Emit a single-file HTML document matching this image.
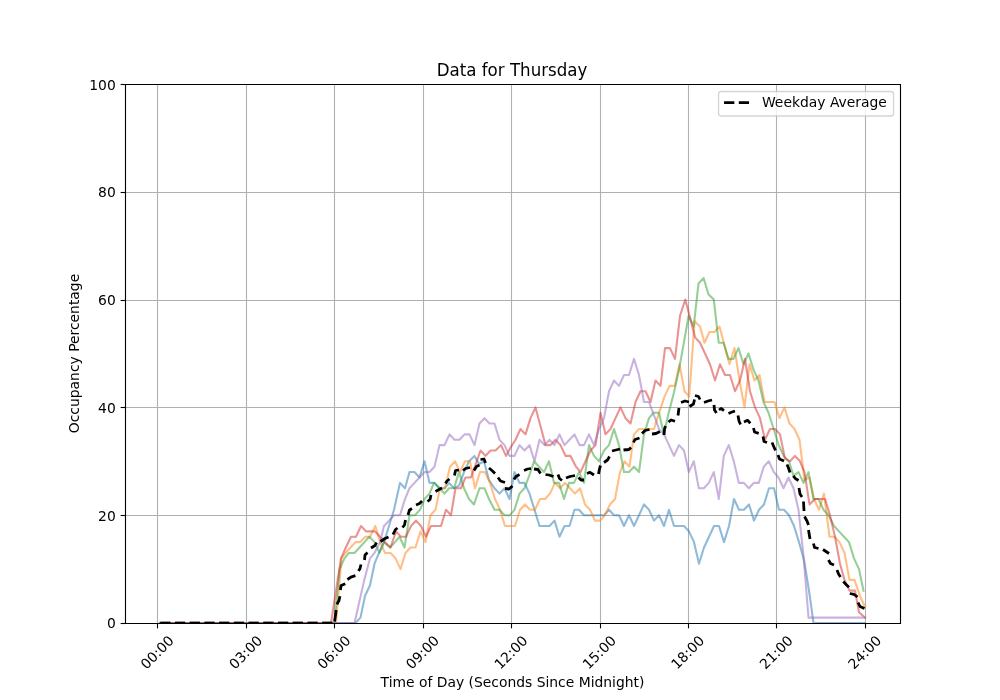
<!DOCTYPE html>
<html lang="en"><head><meta charset="utf-8"><title>Data for Thursday</title>
<style>
html,body{margin:0;padding:0;background:#fff;}
body{width:1000px;height:700px;overflow:hidden;font-family:"DejaVu Sans","Liberation Sans",sans-serif;}
svg{display:block;position:absolute;left:0;top:0;}
</style></head><body>
<svg width="1000" height="700" viewBox="0 0 720 504" version="1.1">
 
 <defs>
  <style type="text/css">*{stroke-linejoin: round; stroke-linecap: butt}</style>
 </defs>
 <g id="figure_1">
  <g id="patch_1">
   <path d="M 0 504 
L 720 504 
L 720 0 
L 0 0 
z
" style="fill: #ffffff"/>
  </g>
  <g id="axes_1">
   <g id="patch_2">
    <path d="M 90 448.56 
L 648 448.56 
L 648 60.48 
L 90 60.48 
z
" style="fill: #ffffff"/>
   </g>
   <g id="line2d_1">
    <path d="M 113.4 60.84 
L 113.4 448.92 
" style="fill: none; stroke: #b0b0b0; stroke-width: 0.8"/>
   </g>
   <g id="line2d_2">
    <path d="M 177.48 60.84 
L 177.48 448.92 
" style="fill: none; stroke: #b0b0b0; stroke-width: 0.8"/>
   </g>
   <g id="line2d_3">
    <path d="M 240.84 60.84 
L 240.84 448.92 
" style="fill: none; stroke: #b0b0b0; stroke-width: 0.8"/>
   </g>
   <g id="line2d_4">
    <path d="M 304.92 60.84 
L 304.92 448.92 
" style="fill: none; stroke: #b0b0b0; stroke-width: 0.8"/>
   </g>
   <g id="line2d_5">
    <path d="M 368.28 60.84 
L 368.28 448.92 
" style="fill: none; stroke: #b0b0b0; stroke-width: 0.8"/>
   </g>
   <g id="line2d_6">
    <path d="M 432.36 60.84 
L 432.36 448.92 
" style="fill: none; stroke: #b0b0b0; stroke-width: 0.8"/>
   </g>
   <g id="line2d_7">
    <path d="M 495.72 60.84 
L 495.72 448.92 
" style="fill: none; stroke: #b0b0b0; stroke-width: 0.8"/>
   </g>
   <g id="line2d_8">
    <path d="M 559.08 60.84 
L 559.08 448.92 
" style="fill: none; stroke: #b0b0b0; stroke-width: 0.8"/>
   </g>
   <g id="line2d_9">
    <path d="M 623.16 60.84 
L 623.16 448.92 
" style="fill: none; stroke: #b0b0b0; stroke-width: 0.8"/>
   </g>
   <g id="line2d_10">
    <path d="M 90.36 448.92 
L 648.36 448.92 
" style="fill: none; stroke: #b0b0b0; stroke-width: 0.8"/>
   </g>
   <g id="line2d_11">
    <path d="M 90.36 371.16 
L 648.36 371.16 
" style="fill: none; stroke: #b0b0b0; stroke-width: 0.8"/>
   </g>
   <g id="line2d_12">
    <path d="M 90.36 293.4 
L 648.36 293.4 
" style="fill: none; stroke: #b0b0b0; stroke-width: 0.8"/>
   </g>
   <g id="line2d_13">
    <path d="M 90.36 216.36 
L 648.36 216.36 
" style="fill: none; stroke: #b0b0b0; stroke-width: 0.8"/>
   </g>
   <g id="line2d_14">
    <path d="M 90.36 138.6 
L 648.36 138.6 
" style="fill: none; stroke: #b0b0b0; stroke-width: 0.8"/>
   </g>
   <g id="line2d_15">
    <path d="M 90.36 60.84 
L 648.36 60.84 
" style="fill: none; stroke: #b0b0b0; stroke-width: 0.8"/>
   </g>
   <g id="matplotlib.axis_1">
    <g id="xtick_1">
     <g id="line2d_16"/>
     <g id="text_1">
      <text style="font-size: 10px; font-family: 'DejaVu Sans', 'Liberation Sans', sans-serif" transform="translate(105.4502 482.3188) rotate(-45)">00:00</text>
     </g>
    </g>
    <g id="xtick_2">
     <g id="line2d_17"/>
     <g id="text_2">
      <text style="font-size: 10px; font-family: 'DejaVu Sans', 'Liberation Sans', sans-serif" transform="translate(169.1198 482.3188) rotate(-45)">03:00</text>
     </g>
    </g>
    <g id="xtick_3">
     <g id="line2d_18"/>
     <g id="text_3">
      <text style="font-size: 10px; font-family: 'DejaVu Sans', 'Liberation Sans', sans-serif" transform="translate(232.7894 482.3188) rotate(-45)">06:00</text>
     </g>
    </g>
    <g id="xtick_4">
     <g id="line2d_19"/>
     <g id="text_4">
      <text style="font-size: 10px; font-family: 'DejaVu Sans', 'Liberation Sans', sans-serif" transform="translate(296.4590 482.3188) rotate(-45)">09:00</text>
     </g>
    </g>
    <g id="xtick_5">
     <g id="line2d_20"/>
     <g id="text_5">
      <text style="font-size: 10px; font-family: 'DejaVu Sans', 'Liberation Sans', sans-serif" transform="translate(360.1286 482.3188) rotate(-45)">12:00</text>
     </g>
    </g>
    <g id="xtick_6">
     <g id="line2d_21"/>
     <g id="text_6">
      <text style="font-size: 10px; font-family: 'DejaVu Sans', 'Liberation Sans', sans-serif" transform="translate(423.7982 482.3188) rotate(-45)">15:00</text>
     </g>
    </g>
    <g id="xtick_7">
     <g id="line2d_22"/>
     <g id="text_7">
      <text style="font-size: 10px; font-family: 'DejaVu Sans', 'Liberation Sans', sans-serif" transform="translate(487.4678 482.3188) rotate(-45)">18:00</text>
     </g>
    </g>
    <g id="xtick_8">
     <g id="line2d_23"/>
     <g id="text_8">
      <text style="font-size: 10px; font-family: 'DejaVu Sans', 'Liberation Sans', sans-serif" transform="translate(551.1374 482.3188) rotate(-45)">21:00</text>
     </g>
    </g>
    <g id="xtick_9">
     <g id="line2d_24"/>
     <g id="text_9">
      <text style="font-size: 10px; font-family: 'DejaVu Sans', 'Liberation Sans', sans-serif" transform="translate(614.8070 482.3188) rotate(-45)">24:00</text>
     </g>
    </g>
    <g id="text_10">
     <text style="font-size: 10px; font-family: 'DejaVu Sans', 'Liberation Sans', sans-serif; text-anchor: middle" x="369" y="494.379839" transform="rotate(-0 369 494.379839)">Time of Day (Seconds Since Midnight)</text>
    </g>
   </g>
   <g id="matplotlib.axis_2">
    <g id="ytick_1">
     <g id="line2d_25"/>
     <g id="text_11">
      <text style="font-size: 10px; font-family: 'DejaVu Sans', 'Liberation Sans', sans-serif; text-anchor: end" x="83.3600" y="452.3592" transform="rotate(-0 83.3600 452.3592)">0</text>
     </g>
    </g>
    <g id="ytick_2">
     <g id="line2d_26"/>
     <g id="text_12">
      <text style="font-size: 10px; font-family: 'DejaVu Sans', 'Liberation Sans', sans-serif; text-anchor: end" x="83.3600" y="375.3192" transform="rotate(-0 83.3600 375.3192)">20</text>
     </g>
    </g>
    <g id="ytick_3">
     <g id="line2d_27"/>
     <g id="text_13">
      <text style="font-size: 10px; font-family: 'DejaVu Sans', 'Liberation Sans', sans-serif; text-anchor: end" x="83.3600" y="297.1272" transform="rotate(-0 83.3600 297.1272)">40</text>
     </g>
    </g>
    <g id="ytick_4">
     <g id="line2d_28"/>
     <g id="text_14">
      <text style="font-size: 10px; font-family: 'DejaVu Sans', 'Liberation Sans', sans-serif; text-anchor: end" x="83.3600" y="219.5112" transform="rotate(-0 83.3600 219.5112)">60</text>
     </g>
    </g>
    <g id="ytick_5">
     <g id="line2d_29"/>
     <g id="text_15">
      <text style="font-size: 10px; font-family: 'DejaVu Sans', 'Liberation Sans', sans-serif; text-anchor: end" x="83.3600" y="141.8952" transform="rotate(-0 83.3600 141.8952)">80</text>
     </g>
    </g>
    <g id="ytick_6">
     <g id="line2d_30"/>
     <g id="text_16">
      <text style="font-size: 10px; font-family: 'DejaVu Sans', 'Liberation Sans', sans-serif; text-anchor: end" x="83.3600" y="64.9272" transform="rotate(-0 83.3600 64.9272)">100</text>
     </g>
    </g>
    <g id="text_17">
     <text style="font-size: 10px; font-family: 'DejaVu Sans', 'Liberation Sans', sans-serif; text-anchor: middle" x="57.1128" y="254.52" transform="rotate(-90 57.1128 254.52)">Occupancy Percentage</text>
    </g>
   </g>
   <g id="line2d_31">
    <path d="M 115.344 448.56 
L 255.96 448.56 
L 259.56 444.6792 
L 262.8 429.156 
L 266.4 421.3944 
L 269.64 405.8712 
L 272.88 398.1096 
L 276.48 390.348 
L 280.08 378.7056 
L 283.68 367.0632 
L 288 347.6592 
L 291.6 351.54 
L 294.84 339.8976 
L 298.44 339.8976 
L 302.04 343.7784 
L 305.64 332.136 
L 309.24 347.6592 
L 312.84 347.6592 
L 316.44 351.54 
L 320.04 351.54 
L 323.28 347.6592 
L 326.88 351.54 
L 330.48 349.5996 
L 334.08 339.8976 
L 337.68 332.136 
L 341.64 328.2552 
L 344.88 334.0764 
L 348.48 332.136 
L 352.08 345.7188 
L 356.04 351.54 
L 359.64 355.4208 
L 363.24 351.54 
L 366.84 359.3016 
L 370.44 339.8976 
L 374.04 347.6592 
L 377.64 347.6592 
L 381.24 355.4208 
L 384.84 367.0632 
L 388.44 378.7056 
L 392.04 378.7056 
L 395.64 378.7056 
L 399.24 374.8248 
L 402.84 386.4672 
L 406.44 378.7056 
L 410.04 378.7056 
L 413.64 367.0632 
L 416.88 367.0632 
L 420.48 370.944 
L 424.08 370.944 
L 427.68 370.944 
L 431.28 370.944 
L 434.88 370.944 
L 438.48 367.0632 
L 442.08 370.944 
L 445.68 370.944 
L 449.28 378.7056 
L 452.88 370.944 
L 456.48 378.7056 
L 460.08 370.944 
L 463.68 363.1824 
L 467.28 367.0632 
L 470.88 374.8248 
L 474.48 370.944 
L 478.08 378.7056 
L 481.68 367.0632 
L 485.28 378.7056 
L 488.88 378.7056 
L 492.48 378.7056 
L 496.08 382.5864 
L 499.68 390.348 
L 503.28 405.8712 
L 506.88 394.2288 
L 510.48 386.4672 
L 514.08 378.7056 
L 517.68 378.7056 
L 521.28 390.348 
L 524.88 378.7056 
L 528.48 359.3016 
L 532.08 367.0632 
L 535.68 367.0632 
L 539.28 363.1824 
L 542.88 374.8248 
L 546.48 367.0632 
L 550.08 363.1824 
L 553.68 351.54 
L 557.28 351.54 
L 560.88 367.0632 
L 564.48 367.0632 
L 568.08 370.944 
L 571.68 378.7056 
L 575.28 390.348 
L 578.88 403.15464 
L 582.48 425.2752 
L 585.72 448.56 
L 622.8 448.56 
" clip-path="url(#p08adf94bba)" style="fill: none; stroke: #1f77b4; stroke-opacity: 0.5; stroke-width: 1.5; stroke-linecap: square"/>
   </g>
   <g id="line2d_32">
    <path d="M 115.344 448.56 
L 241.92 448.56 
L 245.88 401.9904 
L 248.76 398.1096 
L 252.36 394.2288 
L 255.96 390.348 
L 259.2 390.348 
L 263.16 386.4672 
L 266.4 386.4672 
L 270.216 378.7056 
L 273.744 390.348 
L 277.2 398.1096 
L 281.16 398.1096 
L 284.76 401.9904 
L 288.36 409.752 
L 291.96 398.1096 
L 295.56 394.2288 
L 299.16 394.2288 
L 302.76 382.5864 
L 306.36 390.348 
L 309.96 370.944 
L 313.56 367.0632 
L 316.8 351.54 
L 320.4 351.54 
L 324 336.0168 
L 327.6 332.136 
L 331.2 339.8976 
L 334.8 332.136 
L 338.4 332.136 
L 342 351.54 
L 345.6 339.8976 
L 349.2 339.8976 
L 352.8 347.6592 
L 356.4 359.3016 
L 360 367.0632 
L 363.6 378.7056 
L 367.2 378.7056 
L 370.8 378.7056 
L 374.4 367.0632 
L 378 363.1824 
L 381.6 367.0632 
L 385.2 367.0632 
L 388.8 359.3016 
L 392.4 359.3016 
L 396 355.4208 
L 399.6 347.6592 
L 403.2 351.54 
L 406.8 347.6592 
L 410.4 351.54 
L 414 355.4208 
L 417.6 351.54 
L 421.2 363.1824 
L 424.8 367.0632 
L 428.4 374.8248 
L 432 374.8248 
L 435.6 370.944 
L 439.2 363.1824 
L 442.8 359.3016 
L 446.4 339.8976 
L 449.64 332.136 
L 453.24 336.0168 
L 456.48 312.732 
L 460.08 308.8512 
L 463.68 308.8512 
L 467.28 308.8512 
L 470.88 308.8512 
L 474.48 297.2088 
L 478.44 285.5664 
L 482.04 277.8048 
L 485.856 277.8048 
L 489.24 262.2816 
L 492.84 281.6856 
L 496.224 285.5664 
L 500.112 231.2352 
L 504 235.116 
L 507.24 246.7584 
L 510.84 238.9968 
L 514.44 238.9968 
L 518.04 235.116 
L 521.64 248.6988 
L 525.24 262.2816 
L 528.84 250.6392 
L 532.44 273.924 
L 536.04 293.328 
L 539.64 262.2816 
L 543.24 273.924 
L 546.84 270.0432 
L 550.44 289.4472 
L 554.04 289.4472 
L 557.64 289.4472 
L 561.24 301.0896 
L 564.84 293.328 
L 568.44 304.9704 
L 572.04 308.8512 
L 575.64 316.6128 
L 579.24 345.7188 
L 582.84 343.7784 
L 586.08 359.3016 
L 589.68 367.0632 
L 593.28 355.4208 
L 597.24 386.4672 
L 600.84 386.4672 
L 604.44 390.348 
L 608.04 398.1096 
L 611.64 417.5136 
L 615.24 417.5136 
L 619.2 429.156 
L 622.8 436.9176 
" clip-path="url(#p08adf94bba)" style="fill: none; stroke: #ff7f0e; stroke-opacity: 0.5; stroke-width: 1.5; stroke-linecap: square"/>
   </g>
   <g id="line2d_33">
    <path d="M 115.344 448.56 
L 240.84 448.56 
L 244.44 409.752 
L 248.04 401.9904 
L 251.28 398.1096 
L 255.24 398.1096 
L 258.84 394.2288 
L 262.44 390.348 
L 265.896 386.4672 
L 269.64 390.348 
L 273.24 398.1096 
L 276.48 390.348 
L 280.8 394.2288 
L 284.4 390.348 
L 287.64 386.4672 
L 291.24 394.2288 
L 294.84 370.944 
L 298.8 370.944 
L 302.4 367.0632 
L 305.64 359.3016 
L 309.24 355.4208 
L 312.48 347.6592 
L 316.44 351.54 
L 320.04 355.4208 
L 323.28 351.54 
L 326.88 351.54 
L 330.48 339.8976 
L 334.08 351.54 
L 337.68 359.3016 
L 341.28 363.1824 
L 345.24 351.54 
L 348.84 351.54 
L 352.08 359.3016 
L 356.04 367.0632 
L 359.64 367.0632 
L 363.24 370.944 
L 367.2 370.944 
L 370.44 367.0632 
L 374.04 355.4208 
L 377.64 351.54 
L 381.24 341.838 
L 384.48 332.136 
L 388.08 336.0168 
L 391.68 339.8976 
L 395.28 332.136 
L 398.88 347.6592 
L 402.48 347.6592 
L 406.08 359.3016 
L 409.68 347.6592 
L 413.28 347.6592 
L 416.88 339.8976 
L 420.48 347.6592 
L 424.08 320.4936 
L 427.68 328.2552 
L 431.28 332.136 
L 434.88 324.3744 
L 438.48 320.4936 
L 442.08 308.8512 
L 445.68 320.4936 
L 449.28 339.8976 
L 452.88 339.8976 
L 456.48 336.0168 
L 460.08 339.8976 
L 463.68 312.732 
L 467.28 301.0896 
L 470.52 297.2088 
L 474.48 297.2088 
L 477.936 312.732 
L 481.464 297.2088 
L 484.992 283.626 
L 488.52 268.1028 
L 492.048 248.6988 
L 495.792 227.3544 
L 499.464 235.116 
L 502.92 204.0696 
L 506.592 200.1888 
L 510.048 211.8312 
L 513.936 215.712 
L 517.464 246.7584 
L 520.92 246.7584 
L 524.52 258.4008 
L 528.12 258.4008 
L 531.72 250.6392 
L 535.32 262.2816 
L 538.92 254.52 
L 542.52 266.1624 
L 546.12 273.924 
L 549.72 289.4472 
L 553.32 297.2088 
L 557.064 308.8512 
L 560.664 320.4936 
L 564.264 328.2552 
L 568.08 332.136 
L 571.32 342.61416 
L 574.92 339.8976 
L 578.52 347.6592 
L 582.12 339.8976 
L 585.72 359.3016 
L 589.32 359.3016 
L 592.92 367.0632 
L 596.52 370.944 
L 600.48 378.7056 
L 604.08 382.5864 
L 607.68 386.4672 
L 611.28 390.348 
L 614.88 401.9904 
L 618.48 409.752 
L 621.72 425.2752 
" clip-path="url(#p08adf94bba)" style="fill: none; stroke: #2ca02c; stroke-opacity: 0.5; stroke-width: 1.5; stroke-linecap: square"/>
   </g>
   <g id="line2d_34">
    <path d="M 115.344 448.56 
L 238.32 448.56 
L 245.52 401.9904 
L 248.976 394.2288 
L 252.72 386.4672 
L 256.32 386.4672 
L 259.92 378.7056 
L 263.52 382.5864 
L 266.76 382.5864 
L 270 382.5864 
L 273.6 386.4672 
L 277.2 390.348 
L 281.16 394.2288 
L 285.12 382.5864 
L 288.72 386.4672 
L 292.32 386.4672 
L 295.92 378.7056 
L 299.52 374.8248 
L 303.12 378.7056 
L 306.72 386.4672 
L 310.32 378.7056 
L 313.92 378.7056 
L 317.52 378.7056 
L 321.12 367.0632 
L 324.72 370.944 
L 327.96 351.54 
L 331.92 351.54 
L 335.16 343.7784 
L 339.12 343.7784 
L 342.72 333.68832 
L 345.96 324.3744 
L 349.56 328.2552 
L 353.16 324.3744 
L 356.76 324.3744 
L 360.72 320.4936 
L 364.32 328.2552 
L 367.56 322.434 
L 371.16 316.6128 
L 374.76 308.8512 
L 378.36 312.732 
L 381.96 301.0896 
L 385.56 293.328 
L 389.16 306.9108 
L 392.76 320.4936 
L 396.36 320.4936 
L 399.96 316.6128 
L 403.56 320.4936 
L 407.16 328.2552 
L 410.76 328.2552 
L 414.72 336.0168 
L 417.96 339.8976 
L 421.56 332.136 
L 425.16 324.3744 
L 428.76 320.4936 
L 432.36 297.2088 
L 435.96 312.732 
L 439.56 308.8512 
L 443.16 301.0896 
L 446.76 293.328 
L 450.36 301.0896 
L 453.96 304.9704 
L 457.56 289.4472 
L 461.16 281.6856 
L 464.76 281.6856 
L 468.36 289.4472 
L 471.96 273.924 
L 475.56 277.8048 
L 478.8 250.6392 
L 482.4 250.6392 
L 486 258.4008 
L 489.6 227.3544 
L 493.416 215.712 
L 496.944 229.2948 
L 500.472 242.8776 
L 504 246.7584 
L 507.6 254.52 
L 511.2 262.2816 
L 514.8 273.924 
L 518.4 262.2816 
L 522 270.0432 
L 525.6 270.0432 
L 529.2 281.6856 
L 532.8 273.924 
L 536.4 258.4008 
L 540 281.6856 
L 543.6 293.328 
L 547.2 301.0896 
L 550.8 316.6128 
L 554.4 308.8512 
L 558 308.8512 
L 561.6 312.732 
L 565.2 330.1956 
L 568.8 332.136 
L 572.4 328.2552 
L 576 332.136 
L 579.24 339.8976 
L 582.84 363.1824 
L 586.8 359.3016 
L 590.4 359.3016 
L 594 359.3016 
L 597.6 370.944 
L 601.2 386.4672 
L 604.8 405.8712 
L 608.04 417.5136 
L 611.64 425.2752 
L 615.6 425.2752 
L 618.48 440.7984 
L 622.8 444.6792 
" clip-path="url(#p08adf94bba)" style="fill: none; stroke: #d62728; stroke-opacity: 0.5; stroke-width: 1.5; stroke-linecap: square"/>
   </g>
   <g id="line2d_35">
    <path d="M 115.344 448.56 
L 255.24 448.56 
L 258.768 433.0368 
L 262.296 417.5136 
L 266.4 401.9904 
L 269.64 398.1096 
L 273.6 390.348 
L 276.48 378.7056 
L 280.08 374.8248 
L 283.68 370.944 
L 288 370.944 
L 291.6 359.3016 
L 294.84 351.54 
L 298.44 347.6592 
L 302.04 343.7784 
L 305.64 339.8976 
L 309.24 339.8976 
L 312.84 336.0168 
L 316.44 320.4936 
L 320.04 320.4936 
L 323.64 312.732 
L 327.24 316.6128 
L 330.84 316.6128 
L 334.44 312.732 
L 338.04 312.732 
L 341.64 320.4936 
L 345.24 304.9704 
L 348.84 301.0896 
L 352.44 304.9704 
L 356.04 304.9704 
L 359.64 316.6128 
L 363.24 320.4936 
L 366.84 328.2552 
L 370.44 328.2552 
L 374.04 320.4936 
L 377.64 324.3744 
L 381.24 320.4936 
L 384.84 332.136 
L 388.44 316.6128 
L 392.04 320.4936 
L 395.64 316.6128 
L 399.24 320.4936 
L 402.84 312.732 
L 406.44 320.4936 
L 410.04 316.6128 
L 413.64 312.732 
L 417.24 320.4936 
L 420.48 320.4936 
L 424.08 312.732 
L 427.68 320.4936 
L 431.28 308.8512 
L 434.88 301.0896 
L 438.48 281.6856 
L 442.08 273.924 
L 445.68 277.8048 
L 449.28 270.0432 
L 452.88 270.0432 
L 456.48 258.4008 
L 460.08 270.0432 
L 463.68 289.4472 
L 467.28 289.4472 
L 470.88 299.1492 
L 474.48 308.8512 
L 478.08 312.732 
L 481.68 320.4936 
L 485.28 328.2552 
L 488.88 320.4936 
L 492.48 324.3744 
L 495.936 339.8976 
L 499.536 332.136 
L 503.136 351.54 
L 506.736 351.54 
L 510.336 347.6592 
L 513.936 339.8976 
L 517.536 359.3016 
L 521.136 328.2552 
L 524.736 320.4936 
L 528.336 332.136 
L 531.936 347.6592 
L 535.536 347.6592 
L 539.136 351.54 
L 542.736 347.6592 
L 546.336 347.6592 
L 549.936 336.0168 
L 553.536 332.136 
L 557.136 339.8976 
L 560.52 343.7784 
L 564.12 351.54 
L 567.72 343.7784 
L 571.32 351.54 
L 574.92 367.0632 
L 578.52 400.05 
L 582.12 444.6792 
L 622.8 444.6792 
" clip-path="url(#p08adf94bba)" style="fill: none; stroke: #9467bd; stroke-opacity: 0.5; stroke-width: 1.5; stroke-linecap: square"/>
   </g>
   <g id="line2d_36">
    <path d="M 115.344 448.56 
L 122.744 448.56 
" clip-path="url(#p08adf94bba)" style="fill: none; stroke: #000000; stroke-width: 2"/>
   </g>
   <g id="line2d_37">
    <path d="M 125.944 448.56 
L 133.344 448.56 
" clip-path="url(#p08adf94bba)" style="fill: none; stroke: #000000; stroke-width: 2"/>
   </g>
   <g id="line2d_38">
    <path d="M 136.544 448.56 
L 143.944 448.56 
" clip-path="url(#p08adf94bba)" style="fill: none; stroke: #000000; stroke-width: 2"/>
   </g>
   <g id="line2d_39">
    <path d="M 147.144 448.56 
L 154.544 448.56 
" clip-path="url(#p08adf94bba)" style="fill: none; stroke: #000000; stroke-width: 2"/>
   </g>
   <g id="line2d_40">
    <path d="M 157.744 448.56 
L 165.144 448.56 
" clip-path="url(#p08adf94bba)" style="fill: none; stroke: #000000; stroke-width: 2"/>
   </g>
   <g id="line2d_41">
    <path d="M 168.344 448.56 
L 175.744 448.56 
" clip-path="url(#p08adf94bba)" style="fill: none; stroke: #000000; stroke-width: 2"/>
   </g>
   <g id="line2d_42">
    <path d="M 178.944 448.56 
L 186.344 448.56 
" clip-path="url(#p08adf94bba)" style="fill: none; stroke: #000000; stroke-width: 2"/>
   </g>
   <g id="line2d_43">
    <path d="M 189.544 448.56 
L 196.944 448.56 
" clip-path="url(#p08adf94bba)" style="fill: none; stroke: #000000; stroke-width: 2"/>
   </g>
   <g id="line2d_44">
    <path d="M 200.144 448.56 
L 207.544 448.56 
" clip-path="url(#p08adf94bba)" style="fill: none; stroke: #000000; stroke-width: 2"/>
   </g>
   <g id="line2d_45">
    <path d="M 210.744 448.56 
L 218.144 448.56 
" clip-path="url(#p08adf94bba)" style="fill: none; stroke: #000000; stroke-width: 2"/>
   </g>
   <g id="line2d_46">
    <path d="M 221.344 448.56 
L 228.744 448.56 
" clip-path="url(#p08adf94bba)" style="fill: none; stroke: #000000; stroke-width: 2"/>
   </g>
   <g id="line2d_47">
    <path d="M 231.944 448.56 
L 239.344 448.56 
" clip-path="url(#p08adf94bba)" style="fill: none; stroke: #000000; stroke-width: 2"/>
   </g>
   <g id="line2d_48">
    <path d="M 240.912 447.48 
L 242.064 439.2 
" clip-path="url(#p08adf94bba)" style="fill: none; stroke: #000000; stroke-width: 2"/>
   </g>
   <g id="line2d_49">
    <path d="M 242.568 435.168 
L 244.08 432.36 
L 244.8 429.336 
" clip-path="url(#p08adf94bba)" style="fill: none; stroke: #000000; stroke-width: 2"/>
   </g>
   <g id="line2d_50">
    <path d="M 245.088 424.8 
L 245.592 421.56 
L 248.616 420.264 
" clip-path="url(#p08adf94bba)" style="fill: none; stroke: #000000; stroke-width: 2"/>
   </g>
   <g id="line2d_51">
    <path d="M 250.128 417.24 
L 252.648 415.512 
L 255.888 414.504 
" clip-path="url(#p08adf94bba)" style="fill: none; stroke: #000000; stroke-width: 2"/>
   </g>
   <g id="line2d_52">
    <path d="M 258.12 411.12 
L 259.2 409.32 
L 259.92 406.44 
" clip-path="url(#p08adf94bba)" style="fill: none; stroke: #000000; stroke-width: 2"/>
   </g>
   <g id="line2d_53">
    <path d="M 262.44 403.2 
L 262.8 399.6 
L 264.6 397.8 
" clip-path="url(#p08adf94bba)" style="fill: none; stroke: #000000; stroke-width: 2"/>
   </g>
   <g id="line2d_54">
    <path d="M 267.12 394.56 
L 270 392.76 
L 271.08 390.6 
" clip-path="url(#p08adf94bba)" style="fill: none; stroke: #000000; stroke-width: 2"/>
   </g>
   <g id="line2d_55">
    <path d="M 273.96 389.88 
L 277.2 387.72 
L 279.72 386.64 
" clip-path="url(#p08adf94bba)" style="fill: none; stroke: #000000; stroke-width: 2"/>
   </g>
   <g id="line2d_56">
    <path d="M 282.96 384.84 
L 284.76 381.24 
L 286.2 380.16 
" clip-path="url(#p08adf94bba)" style="fill: none; stroke: #000000; stroke-width: 2"/>
   </g>
   <g id="line2d_57">
    <path d="M 289.8 379.8 
L 291.24 378 
L 291.96 374.4 
" clip-path="url(#p08adf94bba)" style="fill: none; stroke: #000000; stroke-width: 2"/>
   </g>
   <g id="line2d_58">
    <path d="M 293.76 370.8 
L 294.84 367.2 
L 296.64 366.12 
" clip-path="url(#p08adf94bba)" style="fill: none; stroke: #000000; stroke-width: 2"/>
   </g>
   <g id="line2d_59">
    <path d="M 299.52 363.6 
L 302.04 362.52 
L 303.84 360.72 
" clip-path="url(#p08adf94bba)" style="fill: none; stroke: #000000; stroke-width: 2"/>
   </g>
   <g id="line2d_60">
    <path d="M 307.8 361.08 
L 309.6 359.64 
L 310.32 356.4 
" clip-path="url(#p08adf94bba)" style="fill: none; stroke: #000000; stroke-width: 2"/>
   </g>
   <g id="line2d_61">
    <path d="M 313.56 353.88 
L 316.08 352.44 
L 318.24 351.36 
" clip-path="url(#p08adf94bba)" style="fill: none; stroke: #000000; stroke-width: 2"/>
   </g>
   <g id="line2d_62">
    <path d="M 320.76 348.12 
L 321.84 346.32 
L 323.64 344.88 
" clip-path="url(#p08adf94bba)" style="fill: none; stroke: #000000; stroke-width: 2"/>
   </g>
   <g id="line2d_63">
    <path d="M 327.24 342.36 
L 327.96 338.76 
L 330.48 338.4 
" clip-path="url(#p08adf94bba)" style="fill: none; stroke: #000000; stroke-width: 2"/>
   </g>
   <g id="line2d_64">
    <path d="M 333.36 338.76 
L 335.16 337.32 
L 338.4 336.6 
" clip-path="url(#p08adf94bba)" style="fill: none; stroke: #000000; stroke-width: 2"/>
   </g>
   <g id="line2d_65">
    <path d="M 341.28 338.76 
L 343.08 335.88 
L 345.24 334.8 
" clip-path="url(#p08adf94bba)" style="fill: none; stroke: #000000; stroke-width: 2"/>
   </g>
   <g id="line2d_66">
    <path d="M 345.96 330.84 
L 348.48 330.48 
L 349.56 333.36 
" clip-path="url(#p08adf94bba)" style="fill: none; stroke: #000000; stroke-width: 2"/>
   </g>
   <g id="line2d_67">
    <path d="M 352.08 336.96 
L 354.6 339.12 
L 356.4 340.92 
" clip-path="url(#p08adf94bba)" style="fill: none; stroke: #000000; stroke-width: 2"/>
   </g>
   <g id="line2d_68">
    <path d="M 358.56 343.8 
L 360.36 346.32 
L 363.6 347.4 
" clip-path="url(#p08adf94bba)" style="fill: none; stroke: #000000; stroke-width: 2"/>
   </g>
   <g id="line2d_69">
    <path d="M 363.6 351.72 
L 366.48 352.08 
L 369 349.92 
" clip-path="url(#p08adf94bba)" style="fill: none; stroke: #000000; stroke-width: 2"/>
   </g>
   <g id="line2d_70">
    <path d="M 370.08 345.24 
L 371.52 343.08 
L 374.04 341.64 
" clip-path="url(#p08adf94bba)" style="fill: none; stroke: #000000; stroke-width: 2"/>
   </g>
   <g id="line2d_71">
    <path d="M 377.28 338.76 
L 379.8 337.68 
L 382.32 337.32 
" clip-path="url(#p08adf94bba)" style="fill: none; stroke: #000000; stroke-width: 2"/>
   </g>
   <g id="line2d_72">
    <path d="M 384.48 337.68 
L 387.36 338.04 
L 389.16 340.92 
" clip-path="url(#p08adf94bba)" style="fill: none; stroke: #000000; stroke-width: 2"/>
   </g>
   <g id="line2d_73">
    <path d="M 392.76 341.64 
L 395.28 342 
L 398.52 343.08 
" clip-path="url(#p08adf94bba)" style="fill: none; stroke: #000000; stroke-width: 2"/>
   </g>
   <g id="line2d_74">
    <path d="M 401.76 341.64 
L 402.84 344.52 
L 404.64 345.96 
" clip-path="url(#p08adf94bba)" style="fill: none; stroke: #000000; stroke-width: 2"/>
   </g>
   <g id="line2d_75">
    <path d="M 407.52 344.16 
L 410.4 343.08 
L 414 342.36 
" clip-path="url(#p08adf94bba)" style="fill: none; stroke: #000000; stroke-width: 2"/>
   </g>
   <g id="line2d_76">
    <path d="M 416.52 343.8 
L 418.32 345.6 
L 420.48 345.6 
" clip-path="url(#p08adf94bba)" style="fill: none; stroke: #000000; stroke-width: 2"/>
   </g>
   <g id="line2d_77">
    <path d="M 422.64 340.92 
L 424.8 340.056 
L 427.68 342 
" clip-path="url(#p08adf94bba)" style="fill: none; stroke: #000000; stroke-width: 2"/>
   </g>
   <g id="line2d_78">
    <path d="M 430.92 341.28 
L 431.64 337.68 
L 432.36 335.16 
" clip-path="url(#p08adf94bba)" style="fill: none; stroke: #000000; stroke-width: 2"/>
   </g>
   <g id="line2d_79">
    <path d="M 434.88 333 
L 437.4 331.2 
L 438.84 328.68 
" clip-path="url(#p08adf94bba)" style="fill: none; stroke: #000000; stroke-width: 2"/>
   </g>
   <g id="line2d_80">
    <path d="M 440.64 324.72 
L 443.52 324 
L 446.4 323.28 
" clip-path="url(#p08adf94bba)" style="fill: none; stroke: #000000; stroke-width: 2"/>
   </g>
   <g id="line2d_81">
    <path d="M 448.92 324 
L 452.88 323.64 
L 454.32 322.2 
" clip-path="url(#p08adf94bba)" style="fill: none; stroke: #000000; stroke-width: 2"/>
   </g>
   <g id="line2d_82">
    <path d="M 456.12 318.6 
L 457.2 316.44 
L 460.44 315.36 
" clip-path="url(#p08adf94bba)" style="fill: none; stroke: #000000; stroke-width: 2"/>
   </g>
   <g id="line2d_83">
    <path d="M 462.24 312.12 
L 464.4 309.96 
L 467.64 309.24 
" clip-path="url(#p08adf94bba)" style="fill: none; stroke: #000000; stroke-width: 2"/>
   </g>
   <g id="line2d_84">
    <path d="M 469.44 312.48 
L 472.32 312.12 
L 475.2 310.68 
" clip-path="url(#p08adf94bba)" style="fill: none; stroke: #000000; stroke-width: 2"/>
   </g>
   <g id="line2d_85">
    <path d="M 478.08 313.2 
L 478.44 308.88 
L 479.16 306.72 
" clip-path="url(#p08adf94bba)" style="fill: none; stroke: #000000; stroke-width: 2"/>
   </g>
   <g id="line2d_86">
    <path d="M 481.32 303.84 
L 483.12 302.4 
L 486 303.336 
" clip-path="url(#p08adf94bba)" style="fill: none; stroke: #000000; stroke-width: 2"/>
   </g>
   <g id="line2d_87">
    <path d="M 488.16 299.16 
L 488.88 293.76 
" clip-path="url(#p08adf94bba)" style="fill: none; stroke: #000000; stroke-width: 2"/>
   </g>
   <g id="line2d_88">
    <path d="M 490.32 289.8 
L 493.2 288.72 
L 496.08 289.44 
" clip-path="url(#p08adf94bba)" style="fill: none; stroke: #000000; stroke-width: 2"/>
   </g>
   <g id="line2d_89">
    <path d="M 496.44 292.68 
L 499.32 290.88 
L 500.04 287.64 
" clip-path="url(#p08adf94bba)" style="fill: none; stroke: #000000; stroke-width: 2"/>
   </g>
   <g id="line2d_90">
    <path d="M 500.4 284.76 
L 502.92 285.48 
L 504 287.64 
" clip-path="url(#p08adf94bba)" style="fill: none; stroke: #000000; stroke-width: 2"/>
   </g>
   <g id="line2d_91">
    <path d="M 506.88 289.8 
L 509.76 288.72 
L 512.64 288 
" clip-path="url(#p08adf94bba)" style="fill: none; stroke: #000000; stroke-width: 2"/>
   </g>
   <g id="line2d_92">
    <path d="M 514.08 291.6 
L 514.44 295.2 
L 515.88 297.36 
" clip-path="url(#p08adf94bba)" style="fill: none; stroke: #000000; stroke-width: 2"/>
   </g>
   <g id="line2d_93">
    <path d="M 517.68 295.2 
L 519.12 294.12 
L 521.28 295.56 
" clip-path="url(#p08adf94bba)" style="fill: none; stroke: #000000; stroke-width: 2"/>
   </g>
   <g id="line2d_94">
    <path d="M 524.52 297.72 
L 527.04 296.64 
L 529.2 295.92 
" clip-path="url(#p08adf94bba)" style="fill: none; stroke: #000000; stroke-width: 2"/>
   </g>
   <g id="line2d_95">
    <path d="M 531.36 299.16 
L 532.08 303.12 
L 533.16 305.64 
" clip-path="url(#p08adf94bba)" style="fill: none; stroke: #000000; stroke-width: 2"/>
   </g>
   <g id="line2d_96">
    <path d="M 535.68 303.84 
L 538.2 302.616 
L 540.216 304.776 
" clip-path="url(#p08adf94bba)" style="fill: none; stroke: #000000; stroke-width: 2"/>
   </g>
   <g id="line2d_97">
    <path d="M 542.52 308.16 
L 543.24 311.04 
L 546.264 311.976 
" clip-path="url(#p08adf94bba)" style="fill: none; stroke: #000000; stroke-width: 2"/>
   </g>
   <g id="line2d_98">
    <path d="M 549.36 314.28 
L 550.08 317.88 
L 552.24 318.6 
" clip-path="url(#p08adf94bba)" style="fill: none; stroke: #000000; stroke-width: 2"/>
   </g>
   <g id="line2d_99">
    <path d="M 555.84 318.6 
L 556.92 321.12 
L 558.36 324.36 
" clip-path="url(#p08adf94bba)" style="fill: none; stroke: #000000; stroke-width: 2"/>
   </g>
   <g id="line2d_100">
    <path d="M 560.16 327.6 
L 561.24 330.48 
L 564.48 331.92 
" clip-path="url(#p08adf94bba)" style="fill: none; stroke: #000000; stroke-width: 2"/>
   </g>
   <g id="line2d_101">
    <path d="M 566.64 334.44 
L 567.72 336.96 
L 568.8 340.2 
" clip-path="url(#p08adf94bba)" style="fill: none; stroke: #000000; stroke-width: 2"/>
   </g>
   <g id="line2d_102">
    <path d="M 571.176 342.576 
L 572.616 344.52 
L 574.92 345.96 
" clip-path="url(#p08adf94bba)" style="fill: none; stroke: #000000; stroke-width: 2"/>
   </g>
   <g id="line2d_103">
    <path d="M 575.28 351.36 
L 576 355.68 
L 577.44 357.84 
" clip-path="url(#p08adf94bba)" style="fill: none; stroke: #000000; stroke-width: 2"/>
   </g>
   <g id="line2d_104">
    <path d="M 578.52 361.08 
L 578.88 367.92 
" clip-path="url(#p08adf94bba)" style="fill: none; stroke: #000000; stroke-width: 2"/>
   </g>
   <g id="line2d_105">
    <path d="M 579.24 371.88 
L 581.04 375.12 
L 582.12 378 
" clip-path="url(#p08adf94bba)" style="fill: none; stroke: #000000; stroke-width: 2"/>
   </g>
   <g id="line2d_106">
    <path d="M 582.12 381.6 
L 583.2 388.08 
" clip-path="url(#p08adf94bba)" style="fill: none; stroke: #000000; stroke-width: 2"/>
   </g>
   <g id="line2d_107">
    <path d="M 585.72 391.32 
L 586.44 394.2 
L 589.32 394.92 
" clip-path="url(#p08adf94bba)" style="fill: none; stroke: #000000; stroke-width: 2"/>
   </g>
   <g id="line2d_108">
    <path d="M 592.56 395.64 
L 594.72 397.08 
L 596.88 398.52 
" clip-path="url(#p08adf94bba)" style="fill: none; stroke: #000000; stroke-width: 2"/>
   </g>
   <g id="line2d_109">
    <path d="M 596.52 403.2 
L 597.96 405.72 
L 600.48 406.8 
" clip-path="url(#p08adf94bba)" style="fill: none; stroke: #000000; stroke-width: 2"/>
   </g>
   <g id="line2d_110">
    <path d="M 602.64 410.4 
L 603.864 413.496 
L 605.16 415.44 
" clip-path="url(#p08adf94bba)" style="fill: none; stroke: #000000; stroke-width: 2"/>
   </g>
   <g id="line2d_111">
    <path d="M 607.176 418.68 
L 609.336 421.056 
L 611.28 422.856 
" clip-path="url(#p08adf94bba)" style="fill: none; stroke: #000000; stroke-width: 2"/>
   </g>
   <g id="line2d_112">
    <path d="M 611.856 427.32 
L 614.88 427.896 
L 617.4 429.84 
" clip-path="url(#p08adf94bba)" style="fill: none; stroke: #000000; stroke-width: 2"/>
   </g>
   <g id="line2d_113">
    <path d="M 617.76 433.8 
L 619.2 436.68 
L 622.44 438.12 
" clip-path="url(#p08adf94bba)" style="fill: none; stroke: #000000; stroke-width: 2"/>
   </g>
   <g id="line2d_114"/>
   <g id="line2d_115">
    <path d="M 113.4 448.92 
L 113.4 452.42 
" style="fill: none; stroke: #000000; stroke-width: 0.8"/>
   </g>
   <g id="line2d_116">
    <path d="M 177.48 448.92 
L 177.48 452.42 
" style="fill: none; stroke: #000000; stroke-width: 0.8"/>
   </g>
   <g id="line2d_117">
    <path d="M 240.84 448.92 
L 240.84 452.42 
" style="fill: none; stroke: #000000; stroke-width: 0.8"/>
   </g>
   <g id="line2d_118">
    <path d="M 304.92 448.92 
L 304.92 452.42 
" style="fill: none; stroke: #000000; stroke-width: 0.8"/>
   </g>
   <g id="line2d_119">
    <path d="M 368.28 448.92 
L 368.28 452.42 
" style="fill: none; stroke: #000000; stroke-width: 0.8"/>
   </g>
   <g id="line2d_120">
    <path d="M 432.36 448.92 
L 432.36 452.42 
" style="fill: none; stroke: #000000; stroke-width: 0.8"/>
   </g>
   <g id="line2d_121">
    <path d="M 495.72 448.92 
L 495.72 452.42 
" style="fill: none; stroke: #000000; stroke-width: 0.8"/>
   </g>
   <g id="line2d_122">
    <path d="M 559.08 448.92 
L 559.08 452.42 
" style="fill: none; stroke: #000000; stroke-width: 0.8"/>
   </g>
   <g id="line2d_123">
    <path d="M 623.16 448.92 
L 623.16 452.42 
" style="fill: none; stroke: #000000; stroke-width: 0.8"/>
   </g>
   <g id="line2d_124">
    <path d="M 86.86 448.92 
L 90.36 448.92 
" style="fill: none; stroke: #000000; stroke-width: 0.8"/>
   </g>
   <g id="line2d_125">
    <path d="M 86.86 371.16 
L 90.36 371.16 
" style="fill: none; stroke: #000000; stroke-width: 0.8"/>
   </g>
   <g id="line2d_126">
    <path d="M 86.86 293.4 
L 90.36 293.4 
" style="fill: none; stroke: #000000; stroke-width: 0.8"/>
   </g>
   <g id="line2d_127">
    <path d="M 86.86 216.36 
L 90.36 216.36 
" style="fill: none; stroke: #000000; stroke-width: 0.8"/>
   </g>
   <g id="line2d_128">
    <path d="M 86.86 138.6 
L 90.36 138.6 
" style="fill: none; stroke: #000000; stroke-width: 0.8"/>
   </g>
   <g id="line2d_129">
    <path d="M 86.86 60.84 
L 90.36 60.84 
" style="fill: none; stroke: #000000; stroke-width: 0.8"/>
   </g>
   <g id="patch_3">
    <path d="M 90.36 448.92 
L 648.36 448.92 
L 648.36 60.84 
L 90.36 60.84 
L 90.36 448.92 
z
" style="fill: none; stroke: #000000; stroke-width: 0.8; stroke-linejoin: miter"/>
   </g>
   <g id="text_18">
    <text style="font-size: 12px; font-family: 'DejaVu Sans', 'Liberation Sans', sans-serif; text-anchor: middle" x="0" y="0" transform="translate(368.6400 54.4800) scale(1 1.09)">Data for Thursday</text>
   </g>
   <g id="legend_1" transform="translate(0.36 0.36)">
    <g id="patch_4">
     <path d="M 518.964062 83.158125 
L 641 83.158125 
Q 643 83.158125 643 81.158125 
L 643 67.48 
Q 643 65.48 641 65.48 
L 518.964062 65.48 
Q 516.964062 65.48 516.964062 67.48 
L 516.964062 81.158125 
Q 516.964062 83.158125 518.964062 83.158125 
z
" style="fill: #ffffff; opacity: 0.8; stroke: #cccccc; stroke-linejoin: miter"/>
    </g>
    <g id="line2d_130">
     <path d="M 520.964062 73.578438 
L 530.964062 73.578438 
L 540.964062 73.578438 
" style="fill: none; stroke-dasharray: 7.4,3.2; stroke-dashoffset: 0; stroke: #000000; stroke-width: 2"/>
    </g>
    <g id="text_19">
     <text style="font-size: 10px; font-family: 'DejaVu Sans', 'Liberation Sans', sans-serif; text-anchor: start" x="548.2441" y="76.4284" transform="rotate(-0 548.2441 76.4284)">Weekday Average</text>
    </g>
   </g>
  </g>
 </g>
 <defs>
  <clipPath id="p08adf94bba">
   <rect x="90" y="60.48" width="558" height="388.08"/>
  </clipPath>
 </defs>
</svg>

</body></html>
